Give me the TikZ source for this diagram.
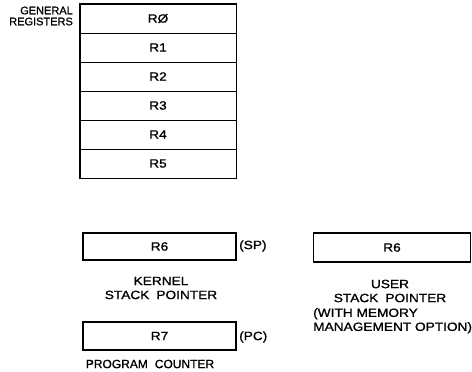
\documentclass[tikz,border=0pt]{standalone}
\usepackage{fontspec}
\setmainfont[FakeBold=1.1]{Liberation Sans}
\newfontfamily\wide[FakeStretch=1.14,FakeBold=1.1]{Liberation Sans}
\begin{document}
\begin{tikzpicture}[x=1pt,y=-1pt,
  every node/.style={font=\wide\fontsize{12}{14}\selectfont, inner sep=0pt},
  reg/.style={draw, line width=1pt, minimum width=156pt, minimum height=29pt},
  regbox/.style={draw, line width=1.6pt},
  lbl/.style={align=center},
  lblL/.style={anchor=west},
  lblR/.style={anchor=east, align=right, font=\fontsize{11}{11}\selectfont}]
\useasboundingbox (0,0) rectangle (472,372);
% general registers
\node[reg] (r0) at (158,18.5) {RØ};
\node[reg] (r1) at (158,47.5) {R1};
\node[reg] (r2) at (158,76.5) {R2};
\node[reg] (r3) at (158,105.5) {R3};
\node[reg] (r4) at (158,134.5) {R4};
\node[reg] (r5) at (158,163.5) {R5};
\draw[regbox] (r0.north west) rectangle (r5.south east);
\node[lblR] (gen) at (73,16) {GENERAL\\REGISTERS};
% kernel stack pointer
\node[regbox, minimum width=153pt, minimum height=27pt] (ksp) at (159.5,246.5) {R6};
\node[lblL] (sp) at (239,246) {(SP)};
\node[lbl] (kl) at (161,288) {KERNEL\\STACK\hspace{7pt}POINTER};
% user stack pointer
\node[regbox, minimum width=157pt, minimum height=29pt] (usp) at (392,247.5) {R6};
\node[lbl] (ul) at (390,291) {USER\\STACK\hspace{7pt}POINTER};
\node[anchor=north west, align=left] (um) at (313,308) {(WITH MEMORY\\MANAGEMENT OPTION)};
% program counter
\node[regbox, minimum width=153pt, minimum height=28pt] (pc) at (159.5,336) {R7};
\node[lblL] (pcl) at (239,337) {(PC)};
\node[lbl, font=\fontsize{12}{14}\selectfont] (pcn) at (150,364) {PROGRAM\hspace{7pt}COUNTER};
\end{tikzpicture}
\end{document}
